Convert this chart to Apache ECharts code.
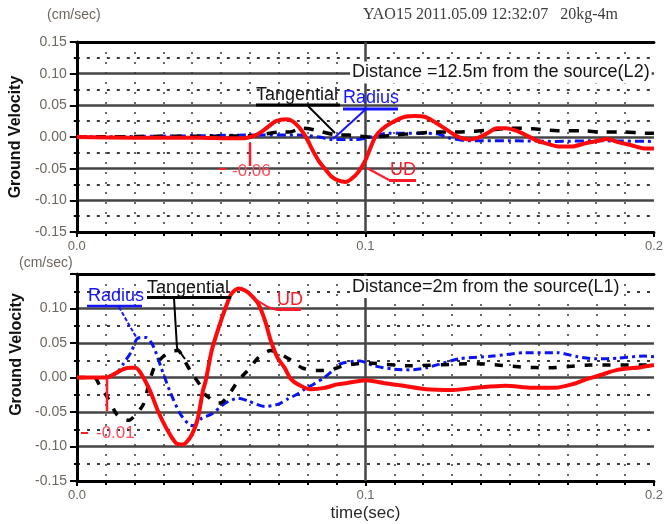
<!DOCTYPE html>
<html><head><meta charset="utf-8">
<script src="https://cdn.jsdelivr.net/npm/echarts@6/dist/echarts.min.js"></script>
<style>html,body{margin:0;padding:0;background:#fff}#c{width:666px;height:524px}</style>
</head><body><div id="c"></div>
<script>
// ---------- data (time in sec, ground velocity in cm/sec) ----------
const xTickLabels = ['0.0', '0.1', '0.2'];
const yTickLabels = ['-0.15', '-0.10', '-0.05', '0.00', '0.05', '0.10', '0.15'];
const seriesNames = ['Radius', 'Tangential', 'UD'];

// Upper panel: distance 12.5 m (L2)
const topUdT = [0, 0.020, 0.043, 0.053, 0.058, 0.060, 0.0625, 0.066, 0.069, 0.0727, 0.0747, 0.0771, 0.0795, 0.0816, 0.084, 0.0863, 0.0884, 0.0908, 0.0932, 0.0952, 0.0976, 0.100, 0.1015, 0.1034, 0.1055, 0.1089, 0.1137, 0.1171, 0.1205, 0.1239, 0.1273, 0.130, 0.1328, 0.1362, 0.1396, 0.143, 0.1454, 0.1488, 0.1522, 0.1556, 0.159, 0.1625, 0.1669, 0.1717, 0.1761, 0.1805, 0.184, 0.1874, 0.1922, 0.1966, 0.200];
const topUdV = [0, -0.001, -0.001, -0.002, -0.002, 0.000, 0.004, 0.015, 0.025, 0.028, 0.025, 0.015, -0.001, -0.020, -0.039, -0.052, -0.063, -0.069, -0.071, -0.066, -0.055, -0.037, -0.020, 0.000, 0.011, 0.022, 0.032, 0.033, 0.032, 0.024, 0.014, 0.006, -0.001, -0.004, 0.000, 0.008, 0.014, 0.014, 0.010, 0.003, -0.005, -0.010, -0.015, -0.015, -0.010, -0.006, -0.003, -0.008, -0.013, -0.018, -0.018];
const topTanT = [0, 0.030, 0.060, 0.0713, 0.0737, 0.0782, 0.0805, 0.089, 0.0942, 0.102, 0.110, 0.118, 0.126, 0.1328, 0.143, 0.1505, 0.158, 0.1666, 0.1744, 0.1812, 0.189, 0.1973, 0.200];
const topTanV = [0, 0.001, 0.002, 0.008, 0.008, 0.014, 0.013, 0.004, 0.003, 0.000, 0.003, 0.006, 0.008, 0.008, 0.011, 0.014, 0.013, 0.010, 0.010, 0.008, 0.008, 0.006, 0.006];
const topRadT = [0, 0.043, 0.060, 0.0771, 0.084, 0.0884, 0.0966, 0.102, 0.1078, 0.1191, 0.1249, 0.1294, 0.1362, 0.1522, 0.1659, 0.1795, 0.200];
const topRadV = [0, 0.002, 0.003, 0.003, 0.000, -0.004, -0.004, 0.000, 0.006, 0.006, 0.005, -0.002, -0.006, -0.006, -0.007, -0.006, -0.007];

// Lower panel: distance 2 m (L1)
const botUdT = [0, 0.0103, 0.0137, 0.0161, 0.0185, 0.0202, 0.0223, 0.0254, 0.0281, 0.0309, 0.0343, 0.0367, 0.0395, 0.0419, 0.0436, 0.0446, 0.0467, 0.0491, 0.0515, 0.0535, 0.0559, 0.0583, 0.0604, 0.0628, 0.0652, 0.0672, 0.0696, 0.072, 0.0741, 0.0775, 0.081, 0.0858, 0.0902, 0.0937, 0.1002, 0.1063, 0.1132, 0.1211, 0.1304, 0.1383, 0.1485, 0.1578, 0.1657, 0.1715, 0.177, 0.1818, 0.1873, 0.1955, 0.200];
const botUdV = [0, 0.000, 0.007, 0.012, 0.014, 0.014, 0.005, -0.020, -0.049, -0.073, -0.095, -0.097, -0.085, -0.059, -0.020, -0.005, 0.039, 0.072, 0.101, 0.121, 0.129, 0.126, 0.119, 0.107, 0.082, 0.053, 0.028, 0.014, -0.002, -0.012, -0.017, -0.015, -0.010, -0.008, -0.004, -0.008, -0.012, -0.017, -0.018, -0.015, -0.012, -0.015, -0.015, -0.010, -0.002, 0.004, 0.011, 0.015, 0.018];
const botRadT = [0, 0.0079, 0.0103, 0.0137, 0.0161, 0.0189, 0.0206, 0.022, 0.024, 0.0257, 0.0271, 0.0292, 0.0322, 0.0357, 0.0388, 0.0405, 0.0432, 0.0467, 0.0515, 0.0559, 0.0593, 0.0652, 0.0696, 0.0731, 0.0765, 0.0789, 0.0823, 0.0858, 0.0892, 0.0913, 0.0981, 0.1029, 0.1098, 0.1153, 0.1211, 0.1324, 0.1441, 0.1554, 0.1667, 0.1736, 0.1804, 0.1873, 0.1966, 0.200];
const botRadV = [0, 0.000, 0.001, 0.006, 0.020, 0.038, 0.055, 0.058, 0.058, 0.051, 0.039, 0.014, -0.020, -0.052, -0.068, -0.070, -0.059, -0.053, -0.037, -0.030, -0.034, -0.042, -0.039, -0.031, -0.024, -0.017, -0.009, 0.000, 0.012, 0.020, 0.024, 0.017, 0.012, 0.011, 0.014, 0.027, 0.031, 0.036, 0.036, 0.030, 0.027, 0.028, 0.031, 0.030];
const botTanT = [0, 0.006, 0.0082, 0.0103, 0.0137, 0.016, 0.018, 0.0205, 0.023, 0.025, 0.027, 0.0298, 0.0325, 0.035, 0.0373, 0.040, 0.0425, 0.0445, 0.046, 0.048, 0.0497, 0.0534, 0.0558, 0.060, 0.0627, 0.0671, 0.0695, 0.0747, 0.078, 0.0825, 0.0866, 0.0925, 0.100, 0.115, 0.138, 0.155, 0.163, 0.178, 0.200];
const botTanV = [0, 0.000, -0.015, -0.027, -0.053, -0.060, -0.062, -0.053, -0.039, -0.008, 0.017, 0.030, 0.038, 0.039, 0.024, 0.005, -0.010, -0.025, -0.030, -0.037, -0.037, -0.020, -0.005, 0.014, 0.028, 0.039, 0.036, 0.024, 0.014, 0.010, 0.010, 0.017, 0.021, 0.017, 0.020, 0.015, 0.014, 0.018, 0.018];

// ---------- chart ----------
const zip = (t, v) => t.map((x, i) => [x, v[i]]);
const FONT = '"Liberation Sans", Arial, sans-serif';
const LABEL_COLOR = '#6d665e';
const X_MIN = 0, X_MAX = 0.2, X_INT = 0.1;
const Y_MIN = -0.15, Y_MAX = 0.15, Y_INT = 0.05;

function xAxisCfg(gi, withName) {
  return {
    type: 'value', gridIndex: gi, min: X_MIN, max: X_MAX, interval: X_INT,
    axisLine: { show: true, onZero: false, lineStyle: { color: '#000', width: 3 } },
    axisTick: { show: true, length: 5, lineStyle: { color: '#000', width: 2 } },
    minorTick: { show: true, splitNumber: 10, length: 4, lineStyle: { color: '#000', width: 2 } },
    splitLine: { show: false },
    minorSplitLine: { show: true, lineStyle: { color: '#3a3a3a', width: 1.5, type: [2, 8] } },
    axisLabel: {
      color: LABEL_COLOR, fontSize: 13, fontFamily: FONT, margin: 8,
      formatter: v => xTickLabels[Math.round((v - X_MIN) / X_INT)]
    },
    name: withName ? 'time(sec)' : '',
    nameLocation: 'middle', nameGap: 24,
    nameTextStyle: { color: '#2a2a2a', fontSize: 17, fontFamily: FONT }
  };
}
function xTopBorder(gi) {
  return {
    type: 'value', gridIndex: gi, position: 'top', min: X_MIN, max: X_MAX,
    axisLine: { show: true, onZero: false, lineStyle: { color: '#000', width: 3 } },
    axisTick: { show: false }, axisLabel: { show: false }, splitLine: { show: false }
  };
}
function yAxisCfg(gi, hideMax, namePad) {
  return {
    type: 'value', gridIndex: gi, min: Y_MIN, max: Y_MAX, interval: Y_INT,
    axisLine: { show: true, onZero: false, lineStyle: { color: '#000', width: 3 } },
    axisTick: { show: true, length: 7, lineStyle: { color: '#000', width: 2 } },
    minorTick: { show: true, splitNumber: 2, length: 3, lineStyle: { color: '#000', width: 2 } },
    splitLine: { show: true, lineStyle: { color: '#454545', width: 2.5 } },
    minorSplitLine: { show: true, lineStyle: { color: '#3a3a3a', width: 2, type: [3, 7] } },
    axisLabel: {
      color: LABEL_COLOR, fontSize: 14, fontFamily: FONT, margin: 10,
      showMaxLabel: !hideMax,
      formatter: v => yTickLabels[Math.round((v - Y_MIN) / Y_INT)]
    },
    name: 'Ground Velocity', nameLocation: 'middle', nameGap: 46,
    nameTextStyle: { color: '#111', fontSize: 16, fontWeight: 'bold', fontFamily: FONT, padding: namePad }
  };
}
function lineSeries(name, xi, yi, data, color, width, type, z) {
  return {
    name, type: 'line', xAxisIndex: xi, yAxisIndex: yi, data, showSymbol: false, symbol: 'none',
    smooth: 0.25, z, lineStyle: { color, width, type }, animation: false
  };
}

const series = [
  lineSeries(seriesNames[0], 0, 0, zip(topRadT, topRadV), '#0a14f0', 3, [9, 4, 3, 4], 3),
  lineSeries(seriesNames[1], 0, 0, zip(topTanT, topTanV), '#000', 3.5, [10, 9], 4),
  lineSeries(seriesNames[2], 0, 0, zip(topUdT, topUdV), '#ff0a0a', 4, 'solid', 5),
  lineSeries(seriesNames[0], 2, 1, zip(botRadT, botRadV), '#0a14f0', 3, [8, 4, 3, 4], 3),
  lineSeries(seriesNames[1], 2, 1, zip(botTanT, botTanV), '#000', 3.5, [8, 10], 4),
  lineSeries(seriesNames[2], 2, 1, zip(botUdT, botUdV), '#ff0a0a', 4, 'solid', 5)
];
// solid vertical grid line at t = 0.1 in each panel
[0, 3].forEach(i => {
  series[i].markLine = {
    silent: true, symbol: 'none', label: { show: false }, animation: false,
    lineStyle: { color: '#454545', width: 2.5, type: 'solid' },
    data: [{ xAxis: X_INT }], z: 1
  };
});

// ---------- annotations (pixel positions) ----------
const txt = (text, x, y, fill, size, extra) => ({
  type: 'text', x, y, z: 100,
  style: Object.assign({ text, fill, font: (size || 18) + 'px ' + FONT, align: 'left', verticalAlign: 'middle' }, extra || {})
});
const seg = (pts, stroke, w, dash) => ({
  type: 'polyline', z: 99, shape: { points: pts },
  style: { stroke, lineWidth: w, fill: null, lineDash: dash || null }
});
const RED = '#ff1a2a', BLUE = '#1515ff', INK = '#161616';

const graphics = [
  txt('(cm/sec)', 47, 15, LABEL_COLOR, 14),
  txt('(cm/sec)', 19, 263, LABEL_COLOR, 14),
  txt('YAO15 2011.05.09 12:32:07   20kg-4m', 363, 15, '#3c3c3c', 16, { font: '16px "Liberation Serif", serif' }),
  // upper panel
  txt('Distance =12.5m from the source(L2)', 350, 72.5, INK, 18, { backgroundColor: '#fff', padding: [2, 2, 2, 2] }),
  txt('Tangential', 256, 95, INK, 18),
  seg([[256, 105], [340, 105]], '#000', 3),
  seg([[308, 106], [335, 133]], '#000', 2),
  txt('Radius', 343, 98, BLUE, 18),
  seg([[343, 109], [398, 109]], BLUE, 3),
  seg([[333, 139], [366, 109]], BLUE, 2),
  txt('UD', 390, 170, RED, 18),
  seg([[389, 180.5], [416, 180.5]], RED, 3),
  seg([[367, 168], [389, 180]], RED, 2),
  txt('-0.06', 232, 171, '#ff4a5a', 17),
  seg([[250, 143], [250, 166]], RED, 2.5),
  seg([[219, 169], [226, 169]], RED, 2),
  // lower panel
  txt('Distance=2m from the source(L1)', 350, 287, INK, 18, { backgroundColor: '#fff', padding: [2, 2, 2, 2] }),
  txt('Radius', 88, 296, BLUE, 18),
  seg([[87, 306], [142, 306]], BLUE, 2.5),
  seg([[119, 307], [136, 337]], BLUE, 2, [4, 2]),
  txt('Tangential', 147, 288, INK, 18),
  seg([[147, 297.5], [231, 297.5]], '#000', 3),
  seg([[174, 298], [177, 348], [185, 359]], '#000', 2),
  txt('UD', 277, 300, RED, 18),
  seg([[277, 309.5], [301, 309.5]], RED, 3),
  seg([[255, 299], [268, 307], [277, 310]], RED, 2),
  txt('-0.01', 96, 433, '#ff4a5a', 17),
  seg([[107, 378], [107, 411]], RED, 2.5),
  seg([[81, 433], [88, 433]], RED, 2)
];

const chart = echarts.init(document.getElementById('c'), null, { renderer: 'canvas' });
chart.setOption({
  animation: false,
  backgroundColor: '#fff',
  grid: [
    { left: 74, right: 6, top: 42, height: 190 },
    { left: 77, right: 6, top: 274, height: 207 }
  ],
  xAxis: [xAxisCfg(0, false), xTopBorder(0), xAxisCfg(1, true), xTopBorder(1)],
  yAxis: [yAxisCfg(0, false, 0), yAxisCfg(1, true, [0, 0, 0, 46])],
  series,
  graphic: graphics
});
</script>
</body></html>
